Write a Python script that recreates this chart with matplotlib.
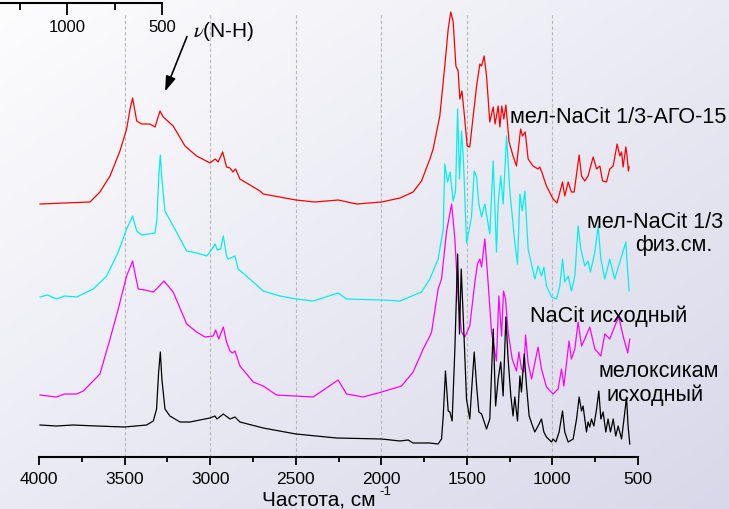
import numpy as np
import matplotlib
matplotlib.use("Agg")
import matplotlib.pyplot as plt
from matplotlib.ticker import MultipleLocator, FixedLocator

plt.rcParams['font.family'] = ['Liberation Sans', 'DejaVu Sans']

# IR spectra, wavenumber (cm-1) and stacked intensity (a.u.)
red_wn = [3994, 3702, 3644, 3585, 3527, 3488, 3468, 3453, 3429, 3400, 3352, 3322, 3293, 3274,
          3216, 3147, 3079, 3001, 2970, 2953, 2927, 2904, 2884, 2867, 2851, 2826, 2709, 2690,
          2499, 2388, 2252, 2144, 1998, 1891, 1814, 1765, 1716, 1697, 1658, 1629, 1609, 1594,
          1580, 1564, 1551, 1541, 1529, 1518, 1498, 1483, 1463, 1443, 1424, 1414, 1399, 1385,
          1366, 1346, 1335, 1317, 1307, 1296, 1284, 1272, 1253, 1230, 1210, 1186, 1175, 1159,
          1142, 1113, 1084, 1074, 1062, 1035, 996, 973, 941, 928, 908, 889, 873, 844, 830, 811,
          792, 762, 742, 723, 707, 684, 665, 645, 622, 606, 596, 587, 571, 564, 556, 552]
red_y = [253, 255, 265, 281, 306, 328, 348, 359, 336, 333, 333, 330, 346, 340,
         331, 311, 301, 294, 298, 295, 305, 290, 289, 285, 288, 278, 266, 263,
         257, 255, 257, 253, 255, 259, 265, 276, 298, 308, 341, 391, 428, 445,
         435, 391, 386, 358, 366, 348, 311, 310, 341, 371, 393, 391, 401, 381,
         335, 350, 333, 351, 330, 351, 338, 352, 315, 301, 291, 328, 321, 325,
         298, 291, 288, 290, 285, 271, 258, 254, 275, 261, 275, 265, 265, 302, 281, 276,
         281, 300, 288, 291, 276, 275, 288, 291, 313, 301, 305, 290, 310, 301, 286, 290]

cyan_wn = [3994, 3950, 3900, 3850, 3780, 3683, 3605, 3537, 3488, 3453, 3429, 3400, 3322, 3311,
           3301, 3291, 3282, 3264, 3216, 3137, 3079, 3020, 3001, 2970, 2959, 2939, 2923, 2904,
           2894, 2855, 2836, 2748, 2690, 2592, 2495, 2398, 2252, 2203, 1998, 1891, 1794, 1765,
           1716, 1668, 1638, 1629, 1613, 1598, 1580, 1566, 1554, 1543, 1531, 1519, 1502, 1473,
           1457, 1443, 1430, 1414, 1395, 1366, 1346, 1327, 1317, 1302, 1288, 1268, 1249, 1220,
           1204, 1190, 1177, 1161, 1142, 1103, 1084, 1064, 1050, 1035, 1005, 976, 957, 941,
           928, 908, 889, 869, 850, 834, 811, 792, 778, 752, 733, 717, 694, 665, 636, 606,
           571, 564, 552]
cyan_y = [160, 162, 158, 161, 160, 168, 181, 205, 228, 241, 226, 222, 224, 238,
          278, 302, 278, 246, 231, 206, 204, 201, 205, 213, 207, 208, 221, 201,
          198, 201, 188, 175, 166, 161, 158, 156, 164, 158, 157, 156, 163, 165,
          178, 198, 228, 293, 275, 285, 256, 266, 348, 278, 326, 293, 214, 240,
          286, 280, 253, 240, 253, 223, 296, 205, 253, 281, 253, 321, 266, 215,
          193, 263, 246, 266, 208, 178, 191, 181, 190, 171, 160, 158, 171, 198,
          175, 181, 166, 181, 231, 208, 191, 196, 185, 205, 231, 198, 178, 198, 178, 195,
          215, 195, 166]

mag_wn = [3994, 3900, 3850, 3780, 3741, 3644, 3585, 3537, 3488, 3453, 3436, 3420, 3381, 3332,
          3303, 3270, 3216, 3137, 3079, 3030, 2982, 2968, 2950, 2923, 2904, 2884, 2870, 2855,
          2826, 2748, 2690, 2612, 2398, 2252, 2203, 2106, 1998, 1882, 1814, 1755, 1716, 1706,
          1668, 1648, 1619, 1589, 1570, 1551, 1531, 1512, 1483, 1453, 1438, 1424, 1414, 1395,
          1376, 1356, 1327, 1313, 1297, 1286, 1274, 1259, 1235, 1210, 1196, 1181, 1167, 1157,
          1142, 1122, 1084, 1064, 1035, 996, 967, 947, 933, 903, 889, 869, 850, 830, 811, 782,
          752, 717, 694, 665, 626, 612, 587, 560, 548]
mag_y = [62, 60, 63, 63, 66, 83, 118, 148, 181, 196, 181, 168, 167, 165,
         170, 176, 165, 133, 125, 120, 121, 127, 118, 130, 115, 106, 104, 106,
         91, 75, 71, 62, 60, 77, 63, 60, 65, 71, 85, 108, 121, 125,
         168, 178, 225, 253, 218, 158, 125, 120, 131, 175, 193, 198, 190, 218,
         175, 125, 96, 161, 121, 166, 158, 125, 98, 86, 105, 88, 85, 122,
         94, 78, 110, 88, 70, 63, 68, 88, 71, 116, 98, 108, 135, 111, 118, 130,
         108, 101, 123, 118, 135, 140, 121, 104, 118]

blk_wn = [3994, 3900, 3800, 3663, 3500, 3371, 3332, 3313, 3301, 3291, 3282, 3264, 3235, 3176,
          3118, 3060, 3001, 2972, 2960, 2923, 2884, 2855, 2826, 2690, 2499, 2261, 1998, 1891,
          1843, 1814, 1716, 1668, 1648, 1638, 1625, 1609, 1599, 1586, 1570, 1554, 1543, 1533,
          1519, 1502, 1483, 1469, 1457, 1443, 1430, 1414, 1385, 1366, 1346, 1332, 1317, 1302,
          1288, 1272, 1259, 1243, 1230, 1220, 1204, 1190, 1181, 1165, 1151, 1136, 1116, 1103,
          1084, 1064, 1050, 1035, 1005, 996, 980, 961, 941, 928, 908, 879, 859, 844, 830, 821,
          811, 801, 792, 782, 772, 758, 742, 729, 717, 704, 688, 675, 661, 645, 630, 616,
          596, 577, 567, 558, 548]
blk_y = [32, 31, 32, 31, 30, 32, 36, 48, 85, 105, 78, 48, 41, 35,
         35, 37, 39, 41, 38, 43, 38, 40, 35, 29, 23, 19, 18, 16,
         17, 14, 14, 13, 18, 41, 86, 46, 45, 36, 108, 203, 123, 188,
         131, 58, 38, 75, 105, 71, 45, 43, 28, 38, 128, 51, 78, 95,
         61, 140, 98, 61, 41, 60, 36, 81, 65, 103, 70, 41, 31, 25,
         31, 38, 25, 20, 15, 18, 15, 25, 46, 25, 15, 18, 38, 60, 46, 51,
         38, 25, 35, 30, 38, 31, 48, 66, 38, 45, 25, 38, 25, 38, 21, 31,
         18, 45, 60, 31, 13]

W, H = 729, 509


def fx(x):
    return x / W


def fy(y):
    return 1 - y / H


fig = plt.figure(figsize=(W / 100, H / 100), dpi=100)

# background gradient, white top-left to lavender bottom-right
bg = fig.add_axes([0, 0, 1, 1], zorder=-10)
gx, gy = np.meshgrid(np.linspace(0, 1, 200), np.linspace(0, 1, 150))
t = 0.5 * gx + 0.5 * gy
c0 = np.array([253, 253, 254]) / 255
c1 = np.array([216, 216, 234]) / 255
img = c0[None, None, :] * (1 - t[..., None]) + c1[None, None, :] * t[..., None]
bg.imshow(img, aspect='auto', extent=[0, 1, 0, 1], origin='upper')
bg.axis('off')

ax = fig.add_axes([fx(39), fy(457), (638 - 39) / W, (457 - 13) / H])
ax.set_facecolor('none')
ax.set_xlim(4000, 500)
ax.set_ylim(0, 444)
for s in ['left', 'right', 'top']:
    ax.spines[s].set_visible(False)
ax.spines['bottom'].set_linewidth(1.5)
ax.xaxis.set_major_locator(MultipleLocator(500))
ax.xaxis.set_minor_locator(MultipleLocator(250))
ax.tick_params(axis='x', which='major', direction='out', length=6, width=1.3,
               labelsize=12.5, pad=4.5)
ax.tick_params(axis='x', which='minor', direction='out', length=3.6, width=1.3)
ax.set_yticks([])

for g in [3500, 3000, 2500, 2000, 1500, 1000]:
    ax.axvline(g, color='#b8b8b8', lw=0.8, ls=(0, (3, 2)), zorder=0)

ax.plot(red_wn, red_y, color='#ff0000', lw=0.9, clip_on=False)
ax.plot(cyan_wn, cyan_y, color='#00f0f0', lw=0.9, clip_on=False)
ax.plot(mag_wn, mag_y, color='#ff00ff', lw=0.9, clip_on=False)
ax.plot(blk_wn, blk_y, color='#000000', lw=0.9, clip_on=False)

# leftover top axis fragment
ax2 = fig.add_axes([0, fy(3), 162 / W, 0.0005])
ax2.set_facecolor('none')
ax2.set_xlim(1353, 500)
ax2.set_yticks([])
for s in ['left', 'right', 'top']:
    ax2.spines[s].set_visible(False)
ax2.spines['bottom'].set_linewidth(1.5)
ax2.xaxis.set_major_locator(FixedLocator([1000, 500]))
ax2.xaxis.set_minor_locator(FixedLocator([1250, 750]))
ax2.tick_params(axis='x', which='major', direction='out', length=8.5, width=1.3,
                labelsize=12, pad=4)
ax2.tick_params(axis='x', which='minor', direction='out', length=5, width=1.3)

fs = 15.6
fig.text(fx(510), fy(123), 'мел-NaCit 1/3-АГО-15', fontsize=fs, va='baseline')
fig.text(fx(587), fy(228), 'мел-NaCit 1/3', fontsize=fs, va='baseline')
fig.text(fx(635), fy(251), 'физ.см.', fontsize=fs, va='baseline')
fig.text(fx(530), fy(322), 'NaCit исходный', fontsize=fs, va='baseline')
fig.text(fx(599), fy(377), 'мелоксикам', fontsize=fs, va='baseline')
fig.text(fx(606), fy(401), 'исходный', fontsize=fs, va='baseline')
fig.text(fx(193), fy(37), r'$\nu$(N-H)', fontsize=15, va='baseline', math_fontfamily='stix')

fig.text(fx(262), fy(505), 'Частота, см', fontsize=15, va='baseline')
fig.text(fx(379), fy(495), '-1', fontsize=9.5, va='baseline')

ax.annotate('', xy=(164, H - 94), xycoords='figure pixels',
            xytext=(188, H - 34), textcoords='figure pixels',
            arrowprops=dict(arrowstyle='-|>,head_length=0.9,head_width=0.3',
                            color='black', lw=1.2, mutation_scale=10))

fig.savefig('out.png', dpi=100)
